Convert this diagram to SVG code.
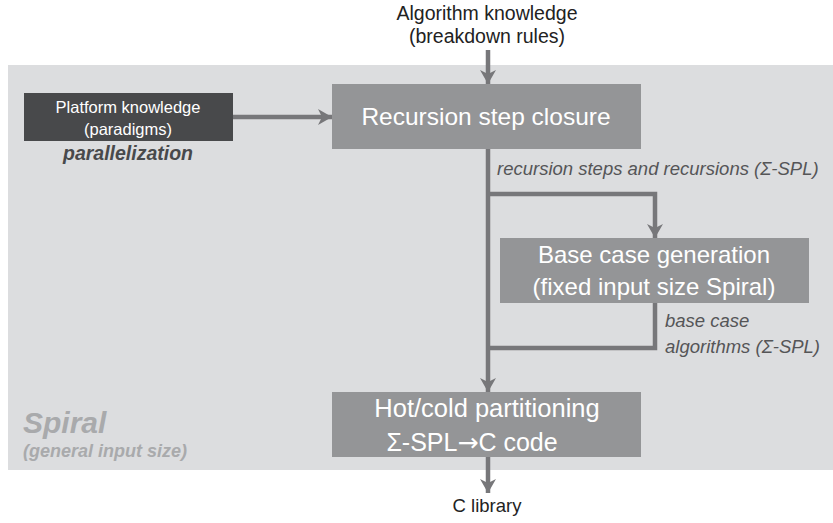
<svg xmlns="http://www.w3.org/2000/svg" width="833" height="523" viewBox="0 0 833 523">
<style>
.box{fill:#949597}
.dark{fill:#48494b}
.wt{fill:#ffffff;font-family:"Liberation Sans",Arial,sans-serif;text-anchor:middle}
.lbl{fill:#555557;font-family:"Liberation Sans",Arial,sans-serif;font-style:italic;font-size:18.5px}
.ext{fill:#222222;font-family:"Liberation Sans",Arial,sans-serif;text-anchor:middle}
.ln{fill:none;stroke:#77777a;stroke-width:4.5}
.sp{fill:#a9aaac;font-family:"Liberation Sans",Arial,sans-serif;font-weight:bold;font-style:italic}
</style>
<defs>
<marker id="arr" viewBox="0 0 16 16" refX="14" refY="8" markerWidth="16" markerHeight="16" markerUnits="userSpaceOnUse" orient="auto">
<path d="M0,0 L14,8 L0,16 L4,8 Z" fill="#77777a"/>
</marker>
</defs>
<rect id="bg" x="8" y="65" width="830" height="405" fill="#dcdddf"/>
<g id="spiral-label">
<text class="sp" x="23" y="433" font-size="30">Spiral</text>
<text class="sp" x="23" y="457" font-size="18">(general input size)</text>
</g>
<g id="connectors">
<line class="ln" x1="488" y1="50" x2="488" y2="84" marker-end="url(#arr)"/>
<line class="ln" x1="233" y1="117" x2="332" y2="117" marker-end="url(#arr)"/>
<line class="ln" x1="488" y1="149" x2="488" y2="392" marker-end="url(#arr)"/>
<polyline class="ln" points="488,194 655,194 655,238" marker-end="url(#arr)"/>
<polyline class="ln" points="655,303 655,348 488,348"/>
<line class="ln" x1="488" y1="457" x2="488" y2="493" marker-end="url(#arr)"/>
</g>
<g id="algorithm-knowledge">
<text class="ext" x="487" y="20" font-size="19.5">Algorithm knowledge</text>
<text class="ext" x="487" y="43" font-size="19.5">(breakdown rules)</text>
</g>
<g id="platform-knowledge">
<rect class="dark" x="24" y="93" width="209" height="48"/>
<text class="wt" x="128" y="113" font-size="16.5">Platform knowledge</text>
<text class="wt" x="128" y="135" font-size="16.5">(paradigms)</text>
<text x="128" y="160" fill="#48494b" font-family="Liberation Sans,Arial,sans-serif" font-weight="bold" font-style="italic" font-size="19.5" text-anchor="middle">parallelization</text>
</g>
<g id="recursion-step-closure">
<rect class="box" x="332" y="84" width="309" height="65"/>
<text class="wt" x="486" y="125" font-size="24.5">Recursion step closure</text>
</g>
<text class="lbl" x="497" y="175">recursion steps and recursions (Σ-SPL)</text>
<g id="base-case-generation">
<rect class="box" x="500" y="238" width="309" height="65"/>
<text class="wt" x="654" y="263" font-size="24">Base case generation</text>
<text class="wt" x="654" y="295" font-size="24">(fixed input size Spiral)</text>
</g>
<text class="lbl" x="665" y="327">base case</text>
<text class="lbl" x="665" y="353">algorithms (Σ-SPL)</text>
<g id="hot-cold-partitioning">
<rect class="box" x="332" y="392" width="309" height="65"/>
<text class="wt" x="487" y="417" font-size="25.5">Hot/cold partitioning</text>
<text class="wt" x="472" y="451" font-size="25">Σ-SPL<tspan font-family="DejaVu Sans,sans-serif" font-size="25">→</tspan>C code</text>
</g>
<g id="c-library">
<text class="ext" x="487" y="512" font-size="18.5">C library</text>
</g>
</svg>
